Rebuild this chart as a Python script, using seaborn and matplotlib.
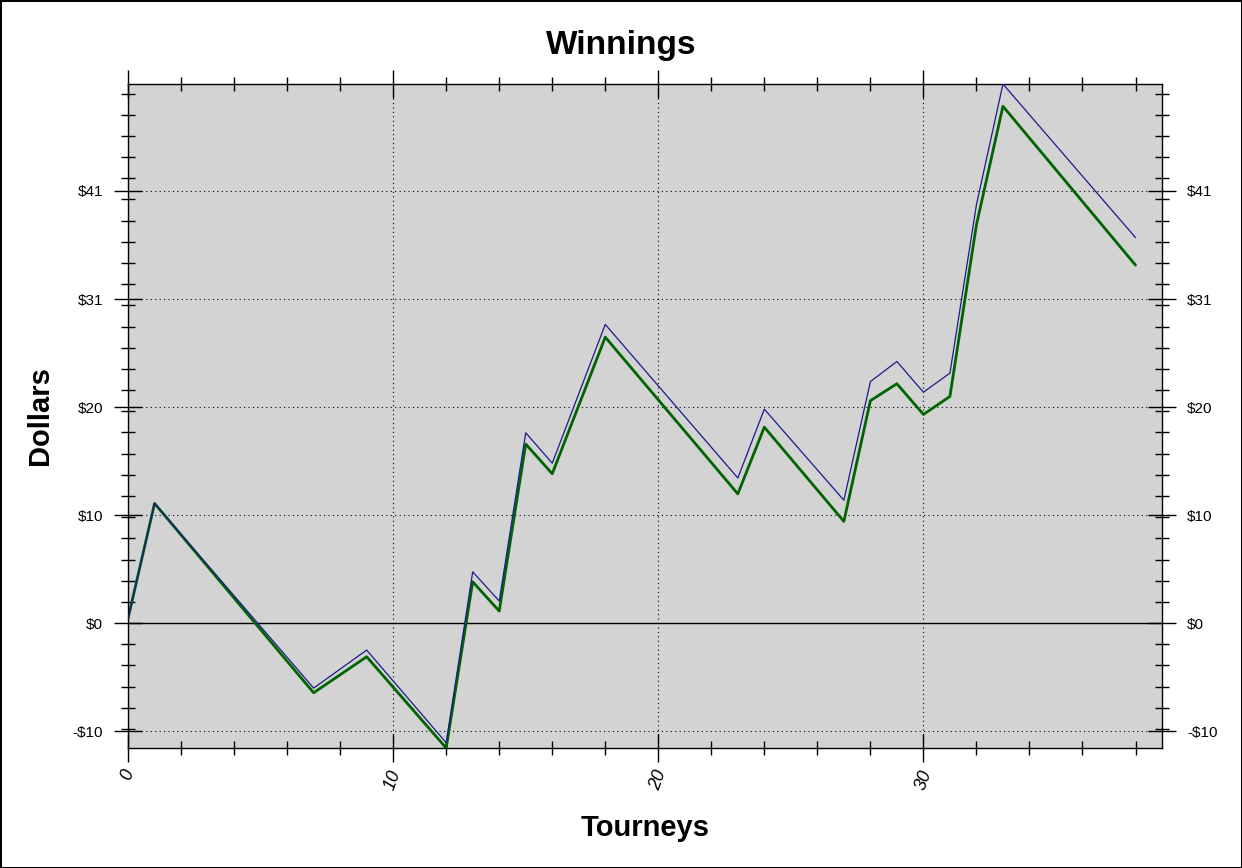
import matplotlib
matplotlib.use("Agg")
import matplotlib.pyplot as plt
from matplotlib.ticker import MultipleLocator, FuncFormatter
import seaborn as sns
import pandas as pd

# Tourney index where the line changes direction
tourneys = [0, 1, 7, 9, 12, 13, 14, 15, 16, 18, 23, 24, 27, 28, 29, 30, 31, 32, 33, 38]

# Blue (thin) series
blue_vals = [0.44, 11.3, -6.14, -2.55, -11.3, 4.84, 2.08, 17.97, 15.1, 28.2,
             13.7, 20.2, 11.6, 22.8, 24.7, 21.8, 23.6, 39.5, 50.9, 36.4]

# Green (thick) series
green_vals = [0.44, 11.3, -6.58, -3.18, -11.8, 3.9, 1.13, 16.9, 14.1, 27.0,
              12.2, 18.5, 9.6, 21.0, 22.6, 19.7, 21.4, 37.6, 48.8, 33.8]

df = pd.DataFrame({"Tourneys": tourneys, "blue": blue_vals, "green": green_vals})

sns.set_style("ticks")
plt.rcParams['font.family'] = ['Liberation Sans', 'DejaVu Sans']
plt.rcParams['text.color'] = 'black'
plt.rcParams['axes.labelcolor'] = 'black'

fig = plt.figure(figsize=(12.42, 8.68), dpi=100)
fig.patch.set_edgecolor("black")
fig.patch.set_linewidth(2)
ax = fig.add_axes([0.1031, 0.1382, 0.8325, 0.765])
ax.set_facecolor("#d3d3d3")

# zero line
ax.axhline(0, color="black", lw=1, zorder=1)

sns.lineplot(data=df, x="Tourneys", y="blue", color="#1a1a8c", lw=0.9, ax=ax, zorder=3)
sns.lineplot(data=df, x="Tourneys", y="green", color="#006400", lw=2.0, ax=ax, zorder=2)

ax.set_xlim(0, 39)
ax.set_ylim(min(green_vals), max(blue_vals))

ax.xaxis.set_major_locator(MultipleLocator(10))
ax.xaxis.set_minor_locator(MultipleLocator(2))
ax.yaxis.set_major_locator(MultipleLocator(10.2))
ax.yaxis.set_minor_locator(MultipleLocator(2))


def dollars(v, pos):
    n = int(round(v))
    if n < 0:
        return "-$%d" % abs(n)
    return "$%d" % n


ax.yaxis.set_major_formatter(FuncFormatter(dollars))

ax.grid(True, which="major", color="black", linestyle=(0, (1, 3)), lw=0.8)
ax.tick_params(which="both", direction="inout", top=True, right=True,
               labelright=True, colors="black")
ax.tick_params(which="major", length=20, width=1, labelsize=11, pad=8)
ax.tick_params(which="minor", length=10, width=1)
ax.tick_params(axis="x", which="major", labelrotation=70, labelsize=13, pad=4)
for lbl in ax.get_xticklabels():
    lbl.set_style("italic")

for sp in ax.spines.values():
    sp.set_linewidth(1)
    sp.set_color("black")

ax.set_xlabel("Tourneys", fontsize=21, fontweight="bold", labelpad=16)
ax.set_ylabel("Dollars", fontsize=21, fontweight="bold", labelpad=13)
fig.suptitle("Winnings", fontsize=24, fontweight="bold", y=0.948, va="center")

fig.savefig("out.png", dpi=100, edgecolor=fig.get_edgecolor())
